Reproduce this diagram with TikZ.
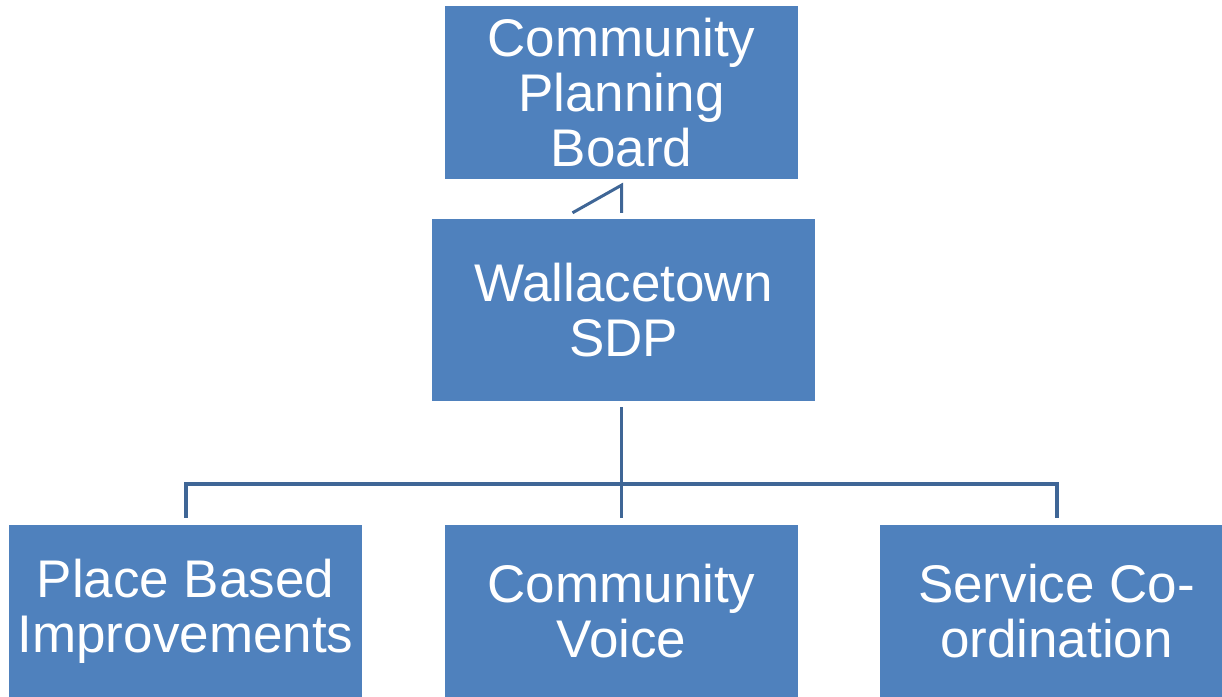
\documentclass[tikz,border=0pt]{standalone}
\usepackage{fontspec}
\setmainfont{Liberation Sans}
\definecolor{boxfill}{HTML}{4F81BD}
\definecolor{linec}{HTML}{3F6696}
\begin{document}
\begin{tikzpicture}[x=1pt,y=-1pt,
  orgbox/.style={fill=boxfill,draw=none,minimum width=353pt,minimum height=173pt,
    text=white,align=center,font=\fontsize{53pt}{55pt}\selectfont,inner sep=0pt},
  conn/.style={draw=linec,line width=3pt}]
\useasboundingbox (0,0) rectangle (1222,696);
\clip (0,0) rectangle (1222,696);
\node[orgbox] (cpb) at (621.5,92.5) {Community\\Planning\\Board};
\node[orgbox,minimum width=383pt,minimum height=182pt] (sdp) at (623.5,310) {Wallacetown\\SDP};
\node[orgbox] (pbi) at (185.5,611.5) {\raisebox{-2pt}{\parbox{353pt}{\centering Place Based\\Improvements}}};
\node[orgbox] (cv) at (621.5,611.5) {\raisebox{-2pt}{\parbox{353pt}{\centering Community\\Voice}}};
\node[orgbox] (sc) at (1056.5,611.5) {\raisebox{-2pt}{\parbox{353pt}{\centering Service Co-\\ordination}}};
% top connector artifact
\coordinate (t1) at ([yshift=-6pt]cpb.south);
\coordinate (t2) at ([yshift=6pt]sdp.north -| cpb.south);
\draw[conn] ([xshift=-49pt]t2) -- (t1) -- (t2);
% bottom tree
\coordinate (bus) at (621,484);
\draw[conn] ([yshift=-6pt]sdp.south -| cv.north) -- ([yshift=7pt]cv.north);
\draw[conn,line width=4pt] ([yshift=7pt]pbi.north) |- (bus) -| ([yshift=7pt]sc.north);
\end{tikzpicture}
\end{document}
